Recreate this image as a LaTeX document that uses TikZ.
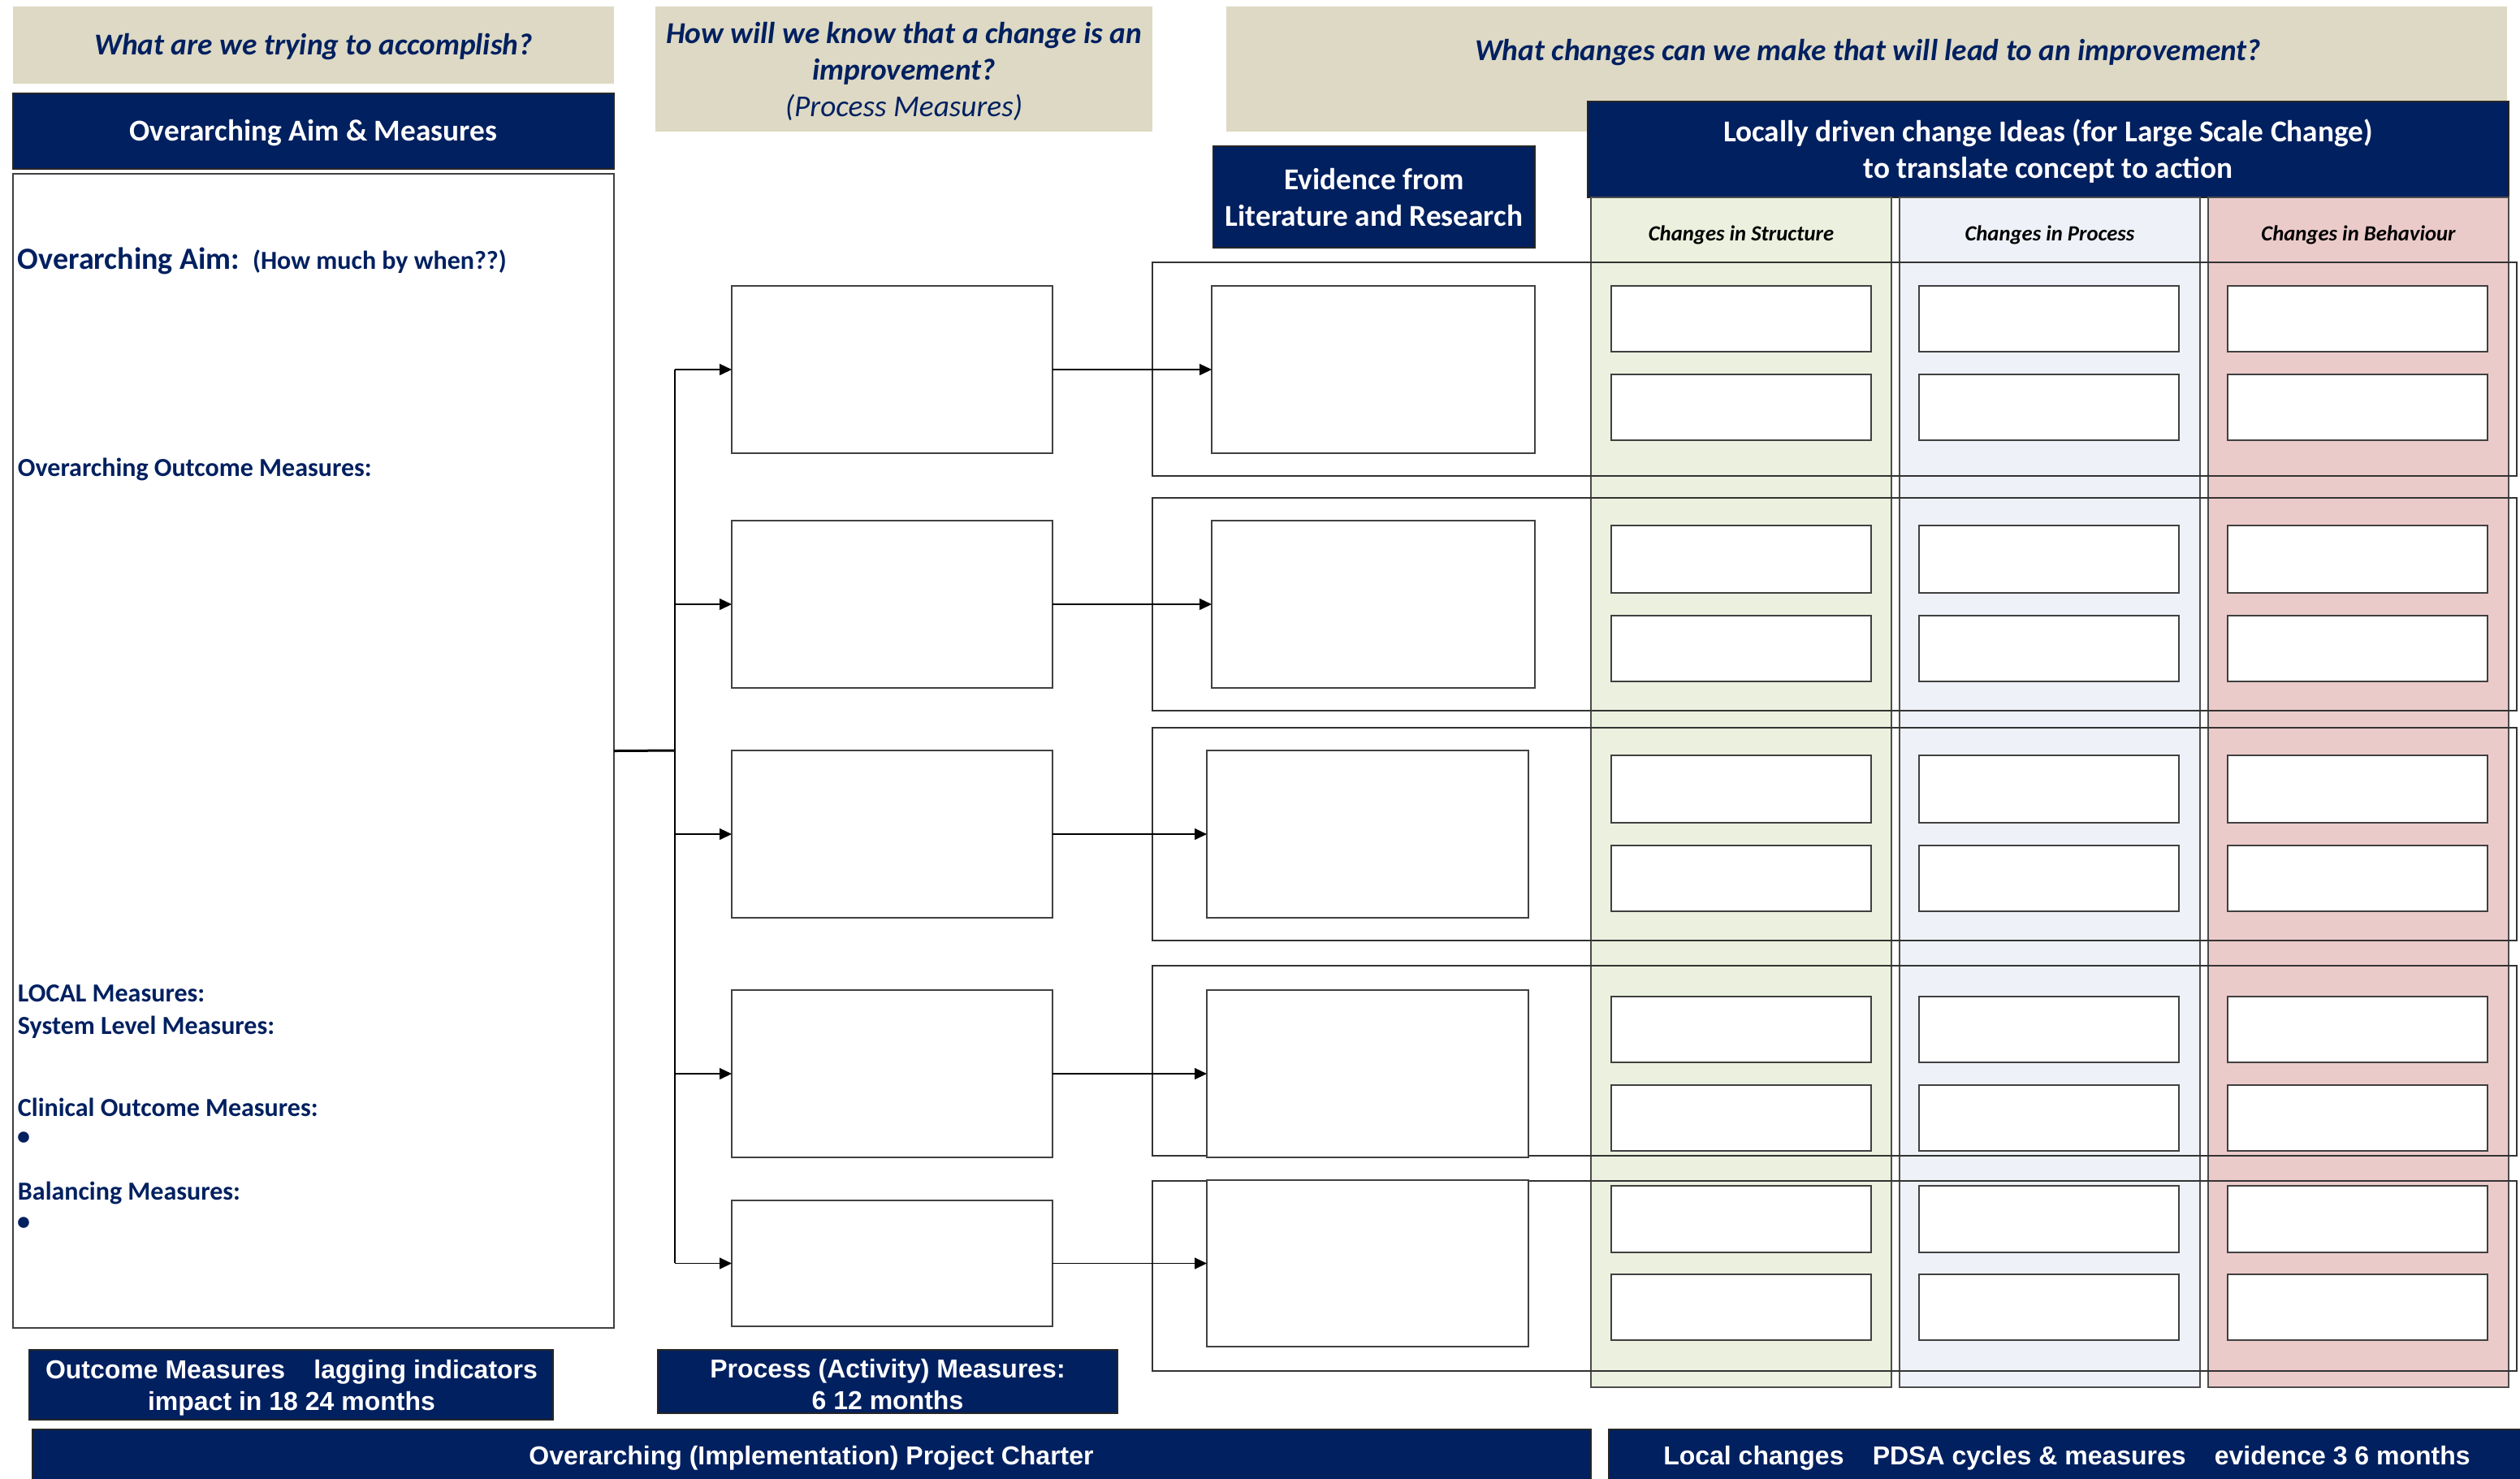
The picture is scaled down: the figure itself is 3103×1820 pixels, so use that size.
\documentclass[tikz,border=0pt]{standalone}
\usepackage{fontspec}
\setmainfont{Carlito}
\newfontfamily\arialfont{Liberation Sans}
\usetikzlibrary{arrows.meta}
\definecolor{navy}{RGB}{0,32,96}
\definecolor{tanfill}{RGB}{221,217,196}
\definecolor{colgreen}{RGB}{235,241,222}
\definecolor{colblue}{RGB}{238,241,247}
\definecolor{colpink}{RGB}{235,203,202}
\newcommand\rbx[7]{\node[#2,minimum width={(#5-#3)*0.3pt},minimum height={(#6-#4)*0.3pt}] (#1) at ({(#3+#5)/2},{(#4+#6)/2}) {#7};}
\tikzset{
 base/.style={inner sep=0pt,outer sep=0pt},
 tanbox/.style={base,fill=tanfill},
 navybox/.style={base,fill=navy,draw=black!85,line width=0.6pt},
 navytxt/.style={base,text=white,font=\fontsize{11.2}{13.7}\selectfont\bfseries,align=center},
 ariatxt/.style={base,text=white,font=\arialfont\fontsize{9.6}{11.7}\selectfont\bfseries,align=center},
 qtext/.style={base,text=navy,font=\fontsize{11.2}{13.4}\selectfont\bfseries\itshape,align=center},
 mbox/.style={base,fill=white,draw=black!75,line width=0.5pt},
 rowbox/.style={base,draw=black!80,line width=0.4pt},
 colbox/.style={base,draw=black!70,line width=0.4pt},
 collabel/.style={base,font=\fontsize{8}{9}\selectfont\bfseries\itshape},
 aimtxt/.style={base,anchor=base west,text=navy,font=\fontsize{9.6}{11}\selectfont\bfseries},
 conn/.style={line width=0.4pt,black},
 arr/.style={conn,-{Triangle[length=4.5pt,width=4.2pt]}},
}
\begin{document}
\begin{tikzpicture}[x=0.3pt,y=-0.3pt]
\useasboundingbox (0,0) rectangle (3103,1820);
\fill[white] (0,0) rectangle (3103,1820);
% question boxes
\rbx{q1}{tanbox}{16}{8}{756}{103}{}
\node[qtext] (q1t) at (386,58) {What are we trying to accomplish?};
\rbx{q2}{tanbox}{807}{8}{1419}{162}{}
\node[qtext] (q2t) at (1113,88) {How will we know that a change is an\\improvement?\\{\mdseries(Process Measures)}};
\rbx{q3}{tanbox}{1510}{8}{3087}{162}{}
\node[qtext] (q3t) at (2300,65) {What changes can we make that will lead to an improvement?};
% headers
\rbx{aimhdr}{navybox}{16}{115}{756}{208}{}
\node[navytxt] (aimhdrt) at (386,164) {Overarching Aim \& Measures};
\rbx{lochdr}{navybox}{1955}{125}{3089}{243}{}
\node[navytxt] (lochdrt) at (2522,186) {Locally driven change Ideas (for Large Scale Change)\\to translate concept to action};
\rbx{evhdr}{navybox}{1494}{180}{1890}{305}{}
\node[navytxt] (evhdrt) at (1692,243) {Evidence from\\Literature and Research};
% columns
\rbx{colS}{colbox,fill=colgreen}{1959}{243}{2329}{1708}{}
\rbx{colP}{colbox,fill=colblue}{2339}{243}{2709}{1708}{}
\rbx{colB}{colbox,fill=colpink}{2719}{243}{3089}{1708}{}
\node[collabel] (labS) at (2144,289) {Changes in Structure};
\node[collabel] (labP) at (2524,289) {Changes in Process};
\node[collabel] (labB) at (2904,289) {Changes in Behaviour};
% row frames
\rbx{row1}{rowbox}{1419}{323}{3099}{586}{}
\rbx{row2}{rowbox}{1419}{613}{3099}{875}{}
\rbx{row3}{rowbox}{1419}{896}{3099}{1158}{}
\rbx{row4}{rowbox}{1419}{1189}{3099}{1423}{}
\rbx{row5}{rowbox}{1419}{1454}{3099}{1688}{}
% process boxes
\rbx{p1}{mbox}{901}{352}{1296}{558}{}
\rbx{p2}{mbox}{901}{641}{1296}{847}{}
\rbx{p3}{mbox}{901}{924}{1296}{1130}{}
\rbx{p4}{mbox}{901}{1219}{1296}{1425}{}
\rbx{p5}{mbox}{901}{1478}{1296}{1633}{}
% evidence boxes
\rbx{e1}{mbox}{1492}{352}{1890}{558}{}
\rbx{e2}{mbox}{1492}{641}{1890}{847}{}
\rbx{e3}{mbox}{1486}{924}{1882}{1130}{}
\rbx{e4}{mbox}{1486}{1219}{1882}{1425}{}
\rbx{e5}{mbox}{1486}{1453}{1882}{1658}{}
% change idea boxes
\foreach \r/\ya/\yb/\yc/\yd in {1/352/433/461/542, 2/647/730/758/839, 3/930/1013/1041/1122, 4/1227/1308/1336/1417, 5/1460/1542/1569/1650}{
 \foreach \c/\xa/\xb in {S/1984/2304, P/2363/2683, B/2743/3063}{
  \rbx{s\c\r-a}{mbox}{\xa}{\ya}{\xb}{\yb}{}
  \rbx{s\c\r-b}{mbox}{\xa}{\yc}{\xb}{\yd}{}
 }}
% aim box
\rbx{aim}{mbox}{16}{214}{756}{1635}{}
\node[aimtxt,font=\fontsize{11.4}{13}\selectfont\bfseries] (aimline) at (22,331) {Overarching Aim:\ {\fontsize{9.6}{11}\selectfont\ (How much by when??)}};
\node[aimtxt] (outline) at (22,586) {Overarching Outcome Measures:};
\node[aimtxt] (localline) at (22,1233) {LOCAL Measures:};
\node[aimtxt] (sysline) at (22,1273) {System Level Measures:};
\node[aimtxt] (clinline) at (22,1374) {Clinical Outcome Measures:};
\node[aimtxt] (bul1) at (21,1409) {•};
\node[aimtxt] (balline) at (22,1477) {Balancing Measures:};
\node[aimtxt] (bul2) at (21,1514) {•};
% connectors
\coordinate (busmid) at (831,924);
\coordinate (bustop) at (831,455);
\coordinate (busbot) at (831,1555);
\draw[conn,line width=0.9pt] (aim.east) -- (busmid);
\draw[conn] (bustop) -- (busbot);
\foreach \i in {1,...,5}{
 \draw[arr] (p\i.west -| bustop) -- (p\i.west);
 \draw[arr] (p\i.east) -- (e\i.west);
}
% bottom bars
\rbx{outm}{navybox}{36}{1662}{681}{1748}{}
\node[ariatxt] (outmt) at (359,1709) {Outcome Measures\hspace{1.1em}lagging indicators\\impact in 18 24 months};
\rbx{procm}{navybox}{810}{1662}{1376}{1740}{}
\node[ariatxt] (procmt) at (1093,1705) {Process (Activity) Measures:\\6 12 months};
\rbx{charter}{navybox}{40}{1760}{1959}{1822}{}
\node[ariatxt] (chartert) at (999,1795) {Overarching (Implementation) Project Charter};
\rbx{local}{navybox}{1981}{1760}{3105}{1822}{}
\node[ariatxt] (localt) at (2545,1795) {Local changes\hspace{1.1em}PDSA cycles \& measures\hspace{1.1em}evidence 3 6 months};
\end{tikzpicture}
\end{document}
